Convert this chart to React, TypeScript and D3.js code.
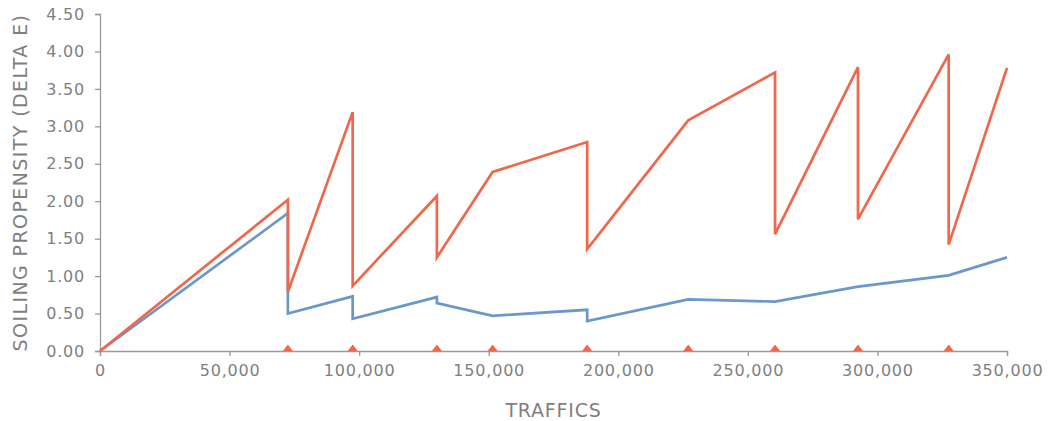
import React, { useRef, useEffect } from 'react';
import * as d3 from 'd3';

interface Pt {
  x: number;
  y: number;
}

// red series (sawtooth, resets at each cleaning)
const redX = [0, 72500, 72500, 97500, 97500, 130000, 130000, 151500, 188000, 188000, 227000, 260500, 260500, 292500, 292500, 327500, 327500, 350000];
const redY = [0, 2.02, 0.79, 3.19, 0.87, 2.07, 1.25, 2.39, 2.79, 1.36, 3.08, 3.72, 1.56, 3.79, 1.76, 3.96, 1.42, 3.78];

// blue series
const blueX = [0, 72500, 72500, 97500, 97500, 130000, 130000, 151500, 188000, 188000, 227000, 260500, 292500, 327500, 350000];
const blueY = [0, 1.84, 0.50, 0.73, 0.43, 0.72, 0.64, 0.47, 0.55, 0.40, 0.69, 0.66, 0.86, 1.01, 1.25];

// marker positions on the x axis
const markerX = [72500, 97500, 130000, 151500, 188000, 227000, 260500, 292500, 327500];

const xTicks = [0, 50000, 100000, 150000, 200000, 250000, 300000, 350000];
const yTicks = [0, 0.5, 1, 1.5, 2, 2.5, 3, 3.5, 4, 4.5];

const App: React.FC = () => {
  const ref = useRef<SVGSVGElement>(null);
  const width = 1050;
  const height = 421;

  useEffect(() => {
    if (!ref.current) return;
    const svg = d3.select(ref.current);
    svg.selectAll('*').remove();

    const margin = { top: 14, right: 43, bottom: 70, left: 100 };
    const x = d3.scaleLinear().domain([0, 350000]).range([margin.left, width - margin.right]);
    const y = d3.scaleLinear().domain([0, 4.5]).range([height - margin.bottom, margin.top]);

    const axisColor = '#9a9a9a';
    const textColor = '#7f7f7f';
    const font = '"DejaVu Sans", sans-serif';

    const xAxis = svg.append('g')
      .attr('transform', `translate(0,${y(0)})`)
      .call(d3.axisBottom(x).tickValues(xTicks).tickSize(5).tickPadding(9)
        .tickFormat(d => d3.format(',')(d as number)));
    const yAxis = svg.append('g')
      .attr('transform', `translate(${x(0)},0)`)
      .call(d3.axisLeft(y).tickValues(yTicks).tickSize(5).tickPadding(10)
        .tickFormat(d => d3.format('.2f')(d as number)));

    [xAxis, yAxis].forEach(a => {
      a.select('.domain').attr('stroke', axisColor).attr('stroke-width', 1.3);
      a.selectAll('.tick line').attr('stroke', axisColor).attr('stroke-width', 1.3);
      a.selectAll('.tick text')
        .attr('fill', textColor)
        .style('font-family', font)
        .style('font-size', '16px')
        .style('letter-spacing', '0.8px');
    });

    const line = d3.line<Pt>().x(d => x(d.x)).y(d => y(d.y));

    const blue: Pt[] = blueX.map((v, i) => ({ x: v, y: blueY[i] }));
    const red: Pt[] = redX.map((v, i) => ({ x: v, y: redY[i] }));

    svg.append('path').datum(blue)
      .attr('fill', 'none').attr('stroke', '#6b97cb').attr('stroke-width', 2.7)
      .attr('stroke-linejoin', 'miter')
      .attr('d', line);
    svg.append('path').datum(red)
      .attr('fill', 'none').attr('stroke', '#f0674b').attr('stroke-width', 2.7)
      .attr('stroke-linejoin', 'miter')
      .attr('d', line);

    svg.append('g').selectAll('path')
      .data(markerX)
      .join('path')
      .attr('d', d => {
        const cx = x(d);
        const cy = y(0);
        return `M${cx - 5},${cy} L${cx},${cy - 6.5} L${cx + 5},${cy} Z`;
      })
      .attr('fill', '#f0674b');

    svg.append('text')
      .attr('x', (x(0) + x(350000)) / 2)
      .attr('y', 417)
      .attr('text-anchor', 'middle')
      .attr('fill', textColor)
      .style('font-family', font)
      .style('font-size', '19px')
      .style('letter-spacing', '0.8px')
      .text('TRAFFICS');

    svg.append('text')
      .attr('transform', `translate(27,${(y(0) + y(4.5)) / 2}) rotate(-90)`)
      .attr('text-anchor', 'middle')
      .attr('fill', textColor)
      .style('font-family', font)
      .style('font-size', '19px')
      .style('letter-spacing', '1.4px')
      .text('SOILING PROPENSITY (DELTA E)');
  }, []);

  return (
    <svg
      ref={ref}
      width={width}
      height={height}
      style={{ position: 'absolute', left: 0, top: 0, background: '#fff' }}
    />
  );
};

export default App;
